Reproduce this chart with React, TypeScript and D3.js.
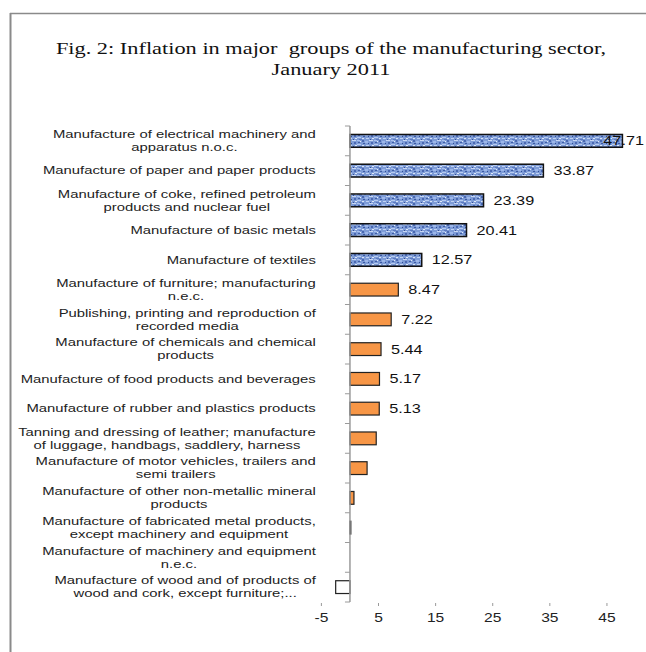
import React, {useEffect, useRef} from 'react';
import * as d3 from 'd3';

// data
const categories = [
  'Manufacture of electrical machinery and\napparatus n.o.c.',
  'Manufacture of paper and paper products',
  'Manufacture of coke, refined petroleum\nproducts and nuclear fuel',
  'Manufacture of basic metals',
  'Manufacture of textiles',
  'Manufacture of furniture; manufacturing\nn.e.c.',
  'Publishing, printing and reproduction of\nrecorded media',
  'Manufacture of chemicals and chemical\nproducts',
  'Manufacture of food products and beverages',
  'Manufacture of rubber and plastics products',
  'Tanning and dressing of leather; manufacture\nof luggage, handbags, saddlery, harness',
  'Manufacture of motor vehicles, trailers and\nsemi trailers',
  'Manufacture of other non-metallic mineral\nproducts',
  'Manufacture of fabricated metal products,\nexcept machinery and equipment',
  'Manufacture of machinery and equipment\nn.e.c.',
  'Manufacture of wood and of products of\nwood and cork, except furniture;...',
];
const values = [47.71, 33.87, 23.39, 20.41, 12.57, 8.47, 7.22, 5.44, 5.17, 5.13, 4.6, 3.0, 0.7, 0.15, 0, -2.5];
const labelled = [true, true, true, true, true, true, true, true, true, true, false, false, false, false, false, false];
const topGroup = [true, true, true, true, true, false, false, false, false, false, false, false, false, false, false, false];
const xTicks = [-5, 5, 15, 25, 35, 45];
const titleLines = ['Fig. 2: Inflation in major  groups of the manufacturing sector,', 'January 2011'];

const W = 646;
const H = 652;
const SX = 1.3; // the picture is stretched sideways
const LSX = 1.35;
const sans = '"Liberation Sans", Arial, sans-serif';
const serif = '"Liberation Serif", "Times New Roman", serif';

function App() {
  const ref = useRef<SVGSVGElement>(null);

  useEffect(() => {
    const svg = d3.select(ref.current);
    svg.selectAll('*').remove();

    const x = d3.scaleLinear().domain([-5, 50]).range([321.4, 635.5]);
    const y = d3.scaleBand<number>()
      .domain(d3.range(categories.length))
      .range([126, 602])
      .paddingInner(0.57)
      .paddingOuter(0.285);
    const step = y.step();

    // texture for the blue bars
    const defs = svg.append('defs');
    const pat = defs.append('pattern')
      .attr('id', 'tex')
      .attr('patternUnits', 'userSpaceOnUse')
      .attr('width', 17).attr('height', 7);
    pat.append('rect').attr('width', 17).attr('height', 7).attr('fill', '#7e9cd7');
    const specks: [number, number, number, number, string][] = [
      [0, 0, 3, 1, '#a9c1ee'], [5, 0, 2, 2, '#4a68b0'], [12, 0, 4, 1, '#c9d8f4'],
      [1, 2, 2, 1, '#3f5ea6'], [8, 1, 3, 2, '#9db7ea'], [14, 2, 2, 2, '#4b69b2'],
      [0, 4, 4, 1, '#b6cbf0'], [6, 3, 2, 1, '#3c5aa3'], [2, 6, 3, 1, '#5b79bf'],
      [9, 5, 3, 1, '#c0d2f3'], [11, 3, 1, 1, '#2f4d96'], [15, 5, 2, 1, '#e0e9f8'],
      [5, 5, 2, 1, '#dbe6f7'], [13, 6, 1, 1, '#354f95'], [3, 1, 1, 1, '#e6eefa'],
    ];
    specks.forEach(([sx, sy, w, h, c]) => {
      pat.append('rect').attr('x', sx).attr('y', sy).attr('width', w).attr('height', h).attr('fill', c);
    });

    // frame
    svg.append('line')
      .attr('x1', 10).attr('x2', W).attr('y1', 13.5).attr('y2', 13.5)
      .attr('stroke', '#8a8a8a').attr('stroke-width', 1.5);
    svg.append('line')
      .attr('x1', 10.5).attr('x2', 10.5).attr('y1', 13).attr('y2', H)
      .attr('stroke', '#8a8a8a').attr('stroke-width', 2);

    // title
    titleLines.forEach((t, i) => {
      svg.append('text')
        .attr('transform', `translate(331, ${54 + i * 21}) scale(${SX},1)`)
        .attr('text-anchor', 'middle')
        .attr('font-family', serif)
        .attr('font-size', 17.2)
        .attr('fill', '#111')
        .style('white-space', 'pre')
        .text(t);
    });

    // bars
    svg.append('g')
      .selectAll('rect')
      .data(values)
      .join('rect')
      .attr('x', d => x(Math.min(0, d)))
      .attr('y', (_, i) => y(i)!)
      .attr('width', d => Math.abs(x(d) - x(0)))
      .attr('height', y.bandwidth())
      .attr('fill', (d, i) => topGroup[i] ? 'url(#tex)' : d < 0 ? '#fff' : '#f79646')
      .attr('stroke', (_, i) => topGroup[i] ? '#111' : '#222')
      .attr('stroke-width', (_, i) => topGroup[i] ? 1.5 : 1.2);

    // category axis
    const ax = svg.append('g').attr('stroke', '#9a9a9a');
    ax.append('line')
      .attr('x1', x(0)).attr('x2', x(0))
      .attr('y1', 126).attr('y2', 602)
      .attr('stroke-width', 1.5);
    ax.selectAll('line.tk')
      .data(d3.range(categories.length + 1))
      .join('line')
      .attr('class', 'tk')
      .attr('x1', x(0) - 5).attr('x2', x(0))
      .attr('y1', i => 126 + i * step).attr('y2', i => 126 + i * step);

    // value axis ticks
    const xa = svg.append('g');
    xa.selectAll('line')
      .data(xTicks)
      .join('line')
      .attr('x1', d => x(d)).attr('x2', d => x(d))
      .attr('y1', 603).attr('y2', 606)
      .attr('stroke', '#9a9a9a');
    xa.selectAll('text')
      .data(xTicks)
      .join('text')
      .attr('transform', d => `translate(${x(d)}, 622) scale(${SX},1)`)
      .attr('text-anchor', 'middle')
      .attr('font-family', sans)
      .attr('font-size', 12)
      .attr('fill', '#222')
      .text(d => d);

    // category labels, lines centred in a right-aligned block
    const lg = svg.append('g')
      .attr('font-family', sans)
      .attr('font-size', 11)
      .attr('fill', '#222');
    categories.forEach((c, i) => {
      const lines = c.split('\n');
      const cy = y(i)! + y.bandwidth() / 2;
      const nodes = lines.map((ln, j) =>
        lg.append('text')
          .attr('text-anchor', 'middle')
          .attr('dy', '0.35em')
          .text(ln)
          .datum(cy + (j - (lines.length - 1) / 2) * 13)
      );
      const widest = d3.max(nodes, n => (n.node() as SVGTextElement).getComputedTextLength())! * LSX;
      const cx = 316 - widest / 2;
      nodes.forEach(n => n.attr('transform', (yy: any) => `translate(${cx}, ${yy}) scale(${LSX},1)`));
    });

    // value labels
    const vg = svg.append('g')
      .attr('font-family', sans)
      .attr('font-size', 12.5)
      .attr('fill', '#111');
    values.forEach((v, i) => {
      if (!labelled[i]) return;
      const t = vg.append('text').attr('dy', '0.35em').text(v.toFixed(2));
      const w = (t.node() as SVGTextElement).getComputedTextLength() * SX;
      const lx = Math.min(x(v) + 10, W - 2 - w);
      t.attr('transform', `translate(${lx}, ${y(i)! + y.bandwidth() / 2}) scale(${SX},1)`);
    });
  }, []);

  return (
    <div style={{position: 'absolute', left: 0, top: 0, background: '#fff'}}>
      <svg ref={ref} width={W} height={H} viewBox={`0 0 ${W} ${H}`} style={{display: 'block'}}/>
    </div>
  );
}

export default App;
